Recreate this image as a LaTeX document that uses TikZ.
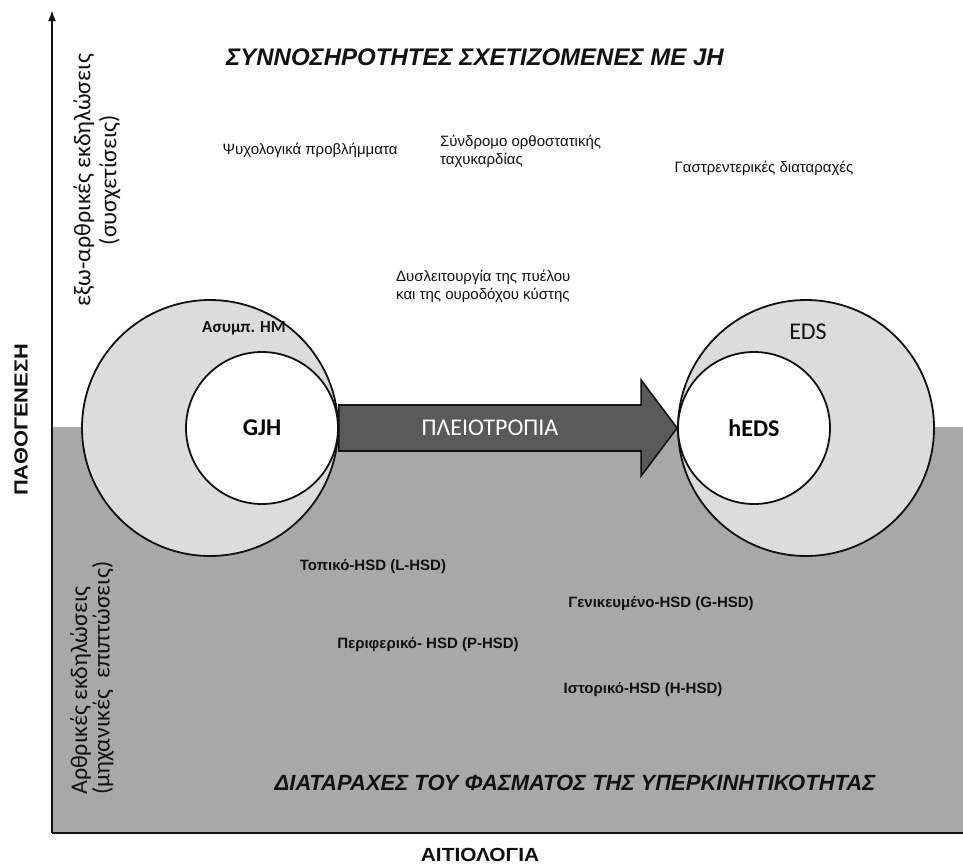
\documentclass[tikz,border=0pt]{standalone}
\usepackage{fontspec}
\setmainfont{Liberation Sans}
\newfontfamily\calibri{Carlito}
\usetikzlibrary{arrows.meta,positioning,calc}
\definecolor{ink}{HTML}{111111}
\definecolor{band}{HTML}{A8A8A8}
\definecolor{disc}{HTML}{DCDCDC}
\definecolor{pleio}{HTML}{5A5A5A}
\tikzset{
  axis/.style={line width=2pt,draw=ink},
  outerdisc/.style={circle,draw=ink,line width=1.8pt,fill=disc,minimum size=256pt,inner sep=0pt},
  innerdisc/.style={circle,draw=ink,line width=1.8pt,fill=white,minimum size=152pt,inner sep=0pt,font=\calibri\bfseries\fontsize{24}{28}\selectfont},
  comorb/.style={font=\fontsize{15}{18}\selectfont,text=ink,align=left,inner sep=0pt},
  hsd/.style={font=\bfseries\fontsize{15}{18}\selectfont,text=ink,inner sep=0pt},
  heading/.style={font=\bfseries\itshape\fontsize{#1}{26}\selectfont,text=ink,inner sep=0pt},
  axislabel/.style={font=\bfseries\fontsize{19}{22}\selectfont,text=ink,inner sep=0pt},
  sidelabel/.style={font=\calibri\fontsize{24}{#1}\selectfont,text=ink,rotate=90,inner sep=0pt},
  bigarrow/.style={draw=ink,line width=1.6pt,fill=pleio}
}
\begin{document}
\begin{tikzpicture}[x=1pt,y=-1pt]
    \useasboundingbox (0,0) rectangle (963,865);
    \coordinate (origin) at (52,833);
    \coordinate (ytop) at (52,10);
    \coordinate (xend) at (963,833);
    \fill[band] (52,427) rectangle (963,833);

    \node[outerdisc] (hm) at (210,428) {};
    \node[outerdisc] (eds) at (806,428) {};
    \node[innerdisc] (gjh) at (262,428) {GJH};
    \node[innerdisc] (heds) at (754,428) {hEDS};

    \path[bigarrow] ($(gjh.east)+(0,-23)$) -- ($(heds.west)+(-36,-23)$) -- ($(heds.west)+(-36,-48)$)
      -- (heds.west) -- ($(heds.west)+(-36,48)$) -- ($(heds.west)+(-36,23)$) -- ($(gjh.east)+(0,23)$) -- cycle;
    \node[font=\calibri\fontsize{24}{28}\selectfont,text=white] (pleiotext) at ($(gjh.east)!0.5!($(heds.west)+(-36,0)$)$) {ΠΛΕΙΟΤΡΟΠΙΑ};
    \node[font=\calibri\bfseries\fontsize{17}{20}\selectfont,text=ink] (hmtext) at (244,328) {Ασυμπ. ΗΜ};
    \node[font=\calibri\fontsize{24}{28}\selectfont,text=ink] (edstext) at (808,332) {EDS};

    \draw[axis,-{Latex[length=11pt,width=8pt]}] (origin) -- (ytop);
    \draw[axis] (origin) -- (xend);

    \node[heading=24] (comorbtitle) at (475,57) {ΣΥΝΝΟΣΗΡΟΤΗΤΕΣ ΣΧΕΤΙΖΟΜΕΝΕΣ ΜΕ JH};
    \node[comorb] (psych) at (310,150) {Ψυχολογικά προβλήμματα};
    \node[comorb,anchor=west] (pots) at (440,151) {Σύνδρομο ορθοστατικής\\ταχυκαρδίας};
    \node[comorb] (gastro) at (764,168) {Γαστρεντερικές διαταραχές};
    \node[comorb,anchor=west] (pelvic) at (396,286) {Δυσλειτουργία της πυέλου\\και της ουροδόχου κύστης};

    \node[hsd] (lhsd) at (373,567) {Τοπικό-HSD (L-HSD)};
    \node[hsd] (ghsd) at (661,604) {Γενικευμένο-HSD (G-HSD)};
    \node[hsd] (phsd) at (428,645) {Περιφερικό- HSD (P-HSD)};
    \node[hsd] (hhsd) at (643,690) {Ιστορικό-HSD (H-HSD)};
    \node[heading=22] (hsdtitle) at (575,783) {ΔΙΑΤΑΡΑΧΕΣ ΤΟΥ ΦΑΣΜΑΤΟΣ ΤΗΣ ΥΠΕΡΚΙΝΗΤΙΚΟΤΗΤΑΣ};

    \node[axislabel,xscale=1.1] (aetio) at (480,855) {ΑΙΤΙΟΛΟΓΙΑ};
    \node[axislabel,rotate=90,xscale=1.15] (patho) at (21,420) {ΠΑΘΟΓΕΝΕΣΗ};
    \node[sidelabel=26,align=center] (extra) at (97,180) {εξω-αρθρικές εκδηλώσεις\\(συσχετίσεις)};
    \node[sidelabel=20,align=left,anchor=west] (artic) at (92,795) {Αρθρικές εκδηλώσεις\\(μηχανικές\ \ επιπτώσεις)};
\end{tikzpicture}
\end{document}
